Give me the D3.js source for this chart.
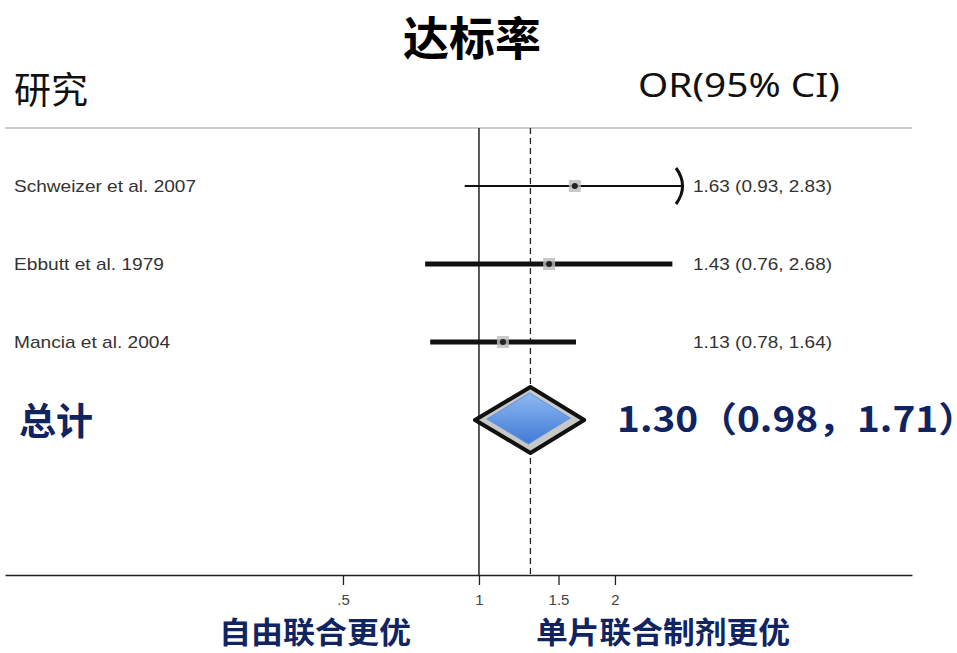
<!DOCTYPE html>
<html>
<head>
<meta charset="utf-8">
<script src="https://cdn.jsdelivr.net/npm/d3@7"></script>
<style>
body{margin:0;background:#fff;}
svg{display:block;}
</style>
</head>
<body>
<div id="chart"></div>
<script>
// study rows
var studies=["Schweizer et al. 2007","Ebbutt et al. 1979","Mancia et al. 2004"]
var orValues=[1.63,1.43,1.13]
var lowerCI=[0.93,0.76,0.78]
var upperCI=[2.83,2.68,1.64]
var orLabels=["1.63 (0.93, 2.83)","1.43 (0.76, 2.68)","1.13 (0.78, 1.64)"]
// pooled
var pooled={or:1.30,lo:0.98,hi:1.71}
var pooledLabel="1.30（0.98，1.71）"
var tickValues=[0.5,1,1.5,2]
var tickLabels=[".5","1","1.5","2"]

var navy="#0f2461"
var screen={width:957,height:653}

var svg=d3.select("#chart").append("svg")
  .attr("width",screen.width)
  .attr("height",screen.height)

var x=d3.scaleLog()
  .domain([0.0893,9.09])
  .range([5,912])

var rowY=d3.scalePoint()
  .domain(studies.concat(["pooled"]))
  .range([186,420])

var topY=128, axisY=575
var labelW=[182,150,156]

// header line
svg.append("line")
  .attr("x1",5).attr("x2",912)
  .attr("y1",topY).attr("y2",topY)
  .style("stroke","#bbb").attr("stroke-width",1.5)

// titles
svg.append("text").text("达标率")
  .attr("x",472).attr("y",55).attr("text-anchor","middle")
  .style("font-family","'Noto Sans CJK SC'").style("font-weight","bold")
  .style("font-size","46px").style("fill","#000")
svg.append("text").text("研究")
  .attr("x",14).attr("y",104)
  .style("font-family","'Noto Sans CJK SC'").style("font-size","37px").style("fill","#111")
svg.append("text").text("OR(95% CI)")
  .attr("x",840).attr("y",97).attr("text-anchor","end")
  .style("font-family","'Noto Sans', 'Liberation Sans'").style("font-size","33px").style("fill","#111")
  .attr("textLength",202).attr("lengthAdjust","spacingAndGlyphs")

// reference line at 1
svg.append("line")
  .attr("x1",x(1)).attr("x2",x(1))
  .attr("y1",topY).attr("y2",axisY)
  .style("stroke","#222").attr("stroke-width",1.5)

// dashed pooled line
svg.append("line")
  .attr("x1",x(pooled.or)).attr("x2",x(pooled.or))
  .attr("y1",topY).attr("y2",axisY)
  .style("stroke","#222").attr("stroke-width",1.3)
  .attr("stroke-dasharray","6,4")

// axis
var axis=d3.axisBottom(x)
  .tickValues(tickValues)
  .tickFormat(function(d,i){return tickLabels[i]})
  .tickSize(10).tickSizeOuter(0)
var gAxis=svg.append("g").attr("transform","translate(0,"+axisY+")").call(axis)
gAxis.select(".domain").style("stroke","#222").attr("stroke-width",1.5)
gAxis.selectAll(".tick line").style("stroke","#222").attr("stroke-width",1.3)
gAxis.selectAll(".tick text")
  .attr("y",19)
  .style("font-family","Arial, 'Liberation Sans'").style("font-size","15px").style("fill","#444")

// study rows
var rows=svg.append("g").selectAll("g")
  .data(studies)
  .enter().append("g")

rows.append("text")
  .text(function(d){return d})
  .attr("x",14)
  .attr("y",function(d){return rowY(d)+6})
  .style("font-family","Arial, 'Liberation Sans'").style("font-size","17px").style("fill","#333")
  .attr("textLength",function(d,i){return labelW[i]}).attr("lengthAdjust","spacingAndGlyphs")

rows.append("line")
  .attr("x1",function(d,i){return x(lowerCI[i])})
  .attr("x2",function(d,i){return x(upperCI[i])})
  .attr("y1",function(d){return rowY(d)})
  .attr("y2",function(d){return rowY(d)})
  .style("stroke","#111")
  .attr("stroke-width",function(d,i){return i==0?2.2:5})

rows.append("rect")
  .attr("x",function(d,i){return x(orValues[i])-6})
  .attr("y",function(d){return rowY(d)-6})
  .attr("width",12).attr("height",12)
  .style("fill","#bbb").style("opacity",0.8)

rows.append("circle")
  .attr("cx",function(d,i){return x(orValues[i])})
  .attr("cy",function(d){return rowY(d)})
  .attr("r",3).style("fill","#222")

rows.append("text")
  .text(function(d,i){return orLabels[i]})
  .attr("x",693)
  .attr("y",function(d){return rowY(d)+6})
  .style("font-family","Arial, 'Liberation Sans'").style("font-size","17px").style("fill","#333")
  .attr("textLength",139).attr("lengthAdjust","spacingAndGlyphs")

// arrow for first row (CI clipped)
var y0=rowY(studies[0]), xa=x(upperCI[0])
svg.append("path")
  .attr("d","M"+(xa-7)+","+(y0-18)+" Q"+(xa+6)+","+(y0)+" "+(xa-7)+","+(y0+18))
  .style("fill","none").style("stroke","#111").attr("stroke-width",3)

// pooled diamond
var py=rowY("pooled"), h=33
var defs=svg.append("defs")
var grad=defs.append("linearGradient").attr("id","blue").attr("x1",0).attr("y1",0).attr("x2",0).attr("y2",1)
grad.append("stop").attr("offset","0%").attr("stop-color","#8fb8f2")
grad.append("stop").attr("offset","100%").attr("stop-color","#3f7ad6")

svg.append("polygon")
  .attr("points",[[x(pooled.lo),py],[x(pooled.or),py-h],[x(pooled.hi),py],[x(pooled.or),py+h]].join(" "))
  .style("fill","#c8c8c8").style("stroke","#111").attr("stroke-width",4)
  .attr("stroke-linejoin","round")
svg.append("polygon")
  .attr("points",[[x(pooled.lo)+12,py-1],[x(pooled.or)-1,py-h+6],[x(pooled.hi)-14,py-2],[x(pooled.or)-2,py+h-9]].join(" "))
  .style("fill","url(#blue)").style("stroke","#5d8fe0").attr("stroke-width",1)

svg.append("text").text("总计")
  .attr("x",19).attr("y",py+15)
  .style("font-family","'Noto Sans CJK SC'").style("font-weight","bold")
  .style("font-size","37px").style("fill",navy)
svg.append("text").text(pooledLabel)
  .attr("x",617).attr("y",py+12)
  .style("font-family","'Noto Sans CJK SC'").style("font-weight","bold")
  .style("font-size","35px").style("fill",navy)
  .attr("textLength",360).attr("lengthAdjust","spacingAndGlyphs")

// bottom labels
svg.append("text").text("自由联合更优")
  .attr("x",219).attr("y",643)
  .style("font-family","'Noto Sans CJK SC'").style("font-weight","bold")
  .style("font-size","30px").style("fill",navy)
  .attr("textLength",192).attr("lengthAdjust","spacingAndGlyphs")
svg.append("text").text("单片联合制剂更优")
  .attr("x",536).attr("y",643)
  .style("font-family","'Noto Sans CJK SC'").style("font-weight","bold")
  .style("font-size","30px").style("fill",navy)
  .attr("textLength",254).attr("lengthAdjust","spacingAndGlyphs")
</script>
</body>
</html>
